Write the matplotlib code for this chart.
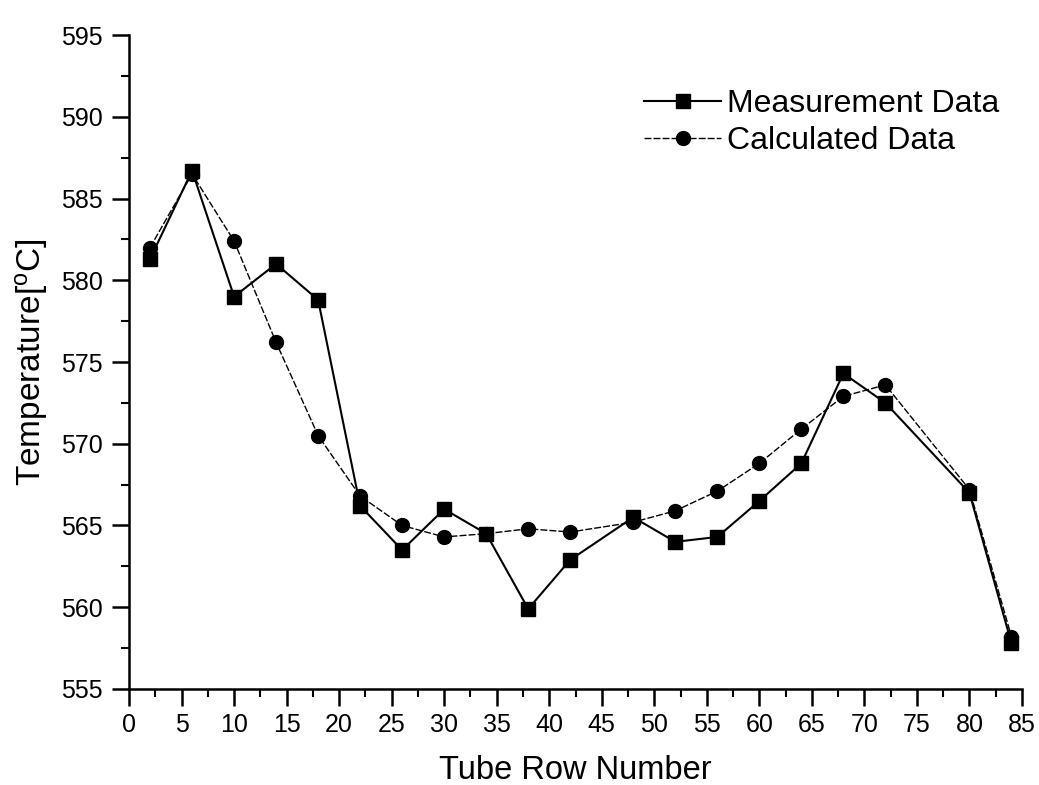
import numpy as np
import matplotlib
matplotlib.use("Agg")
import matplotlib.pyplot as plt
from matplotlib.ticker import MultipleLocator

plt.rcParams['font.family'] = ['Liberation Sans', 'DejaVu Sans']
plt.rcParams['mathtext.fontset'] = 'custom'
plt.rcParams['mathtext.rm'] = 'Liberation Sans'

# tube row positions
rows = [2, 6, 10, 14, 18, 22, 26, 30, 34, 38, 42, 48, 52, 56, 60, 64, 68, 72, 80, 84]
measured = [581.3, 586.7, 579.0, 581.0, 578.8, 566.2, 563.5, 566.0, 564.5, 559.9,
            562.9, 565.5, 564.0, 564.3, 566.5, 568.8, 574.3, 572.5, 567.0, 557.8]
calculated = [582.0, 586.5, 582.4, 576.2, 570.5, 566.8, 565.0, 564.3, 564.5, 564.8,
              564.6, 565.2, 565.9, 567.1, 568.8, 570.9, 572.9, 573.6, 567.2, 558.2]

fig = plt.figure(figsize=(10.39, 7.85), dpi=100)
ax = fig.add_axes([0.1242, 0.1223, 0.8594, 0.8331])

ax.plot(rows, measured, '-', color='black', lw=1.5, marker='s', ms=10,
        label='Measurement Data')
ax.plot(rows, calculated, color='black', lw=1.0, ls=(0, (5, 1.5)), marker='o', ms=10,
        label='Calculated Data')

ax.set_xlim(0, 85)
ax.set_ylim(555, 595)
ax.xaxis.set_major_locator(MultipleLocator(5))
ax.xaxis.set_minor_locator(MultipleLocator(2.5))
ax.yaxis.set_major_locator(MultipleLocator(5))
ax.yaxis.set_minor_locator(MultipleLocator(2.5))
ax.tick_params(which='major', length=12, width=1.8, labelsize=18, direction='out')
ax.tick_params(which='minor', length=6, width=1.5, direction='out')
ax.tick_params(axis='x', pad=5)
ax.tick_params(axis='y', pad=7)

for s in ['top', 'right']:
    ax.spines[s].set_visible(False)
for s in ['left', 'bottom']:
    ax.spines[s].set_linewidth(1.8)

ax.set_xlabel('Tube Row Number', fontsize=23.5, labelpad=13)
ax.set_ylabel(r'Temperature[$\mathregular{^o}$C]', fontsize=24, labelpad=8)

ax.legend(loc='upper right', bbox_to_anchor=(1.0, 0.951), frameon=False, fontsize=23,
          handlelength=2.4, handletextpad=0.2, labelspacing=0.22, borderaxespad=0.3)

fig.savefig('out.png', dpi=100)
